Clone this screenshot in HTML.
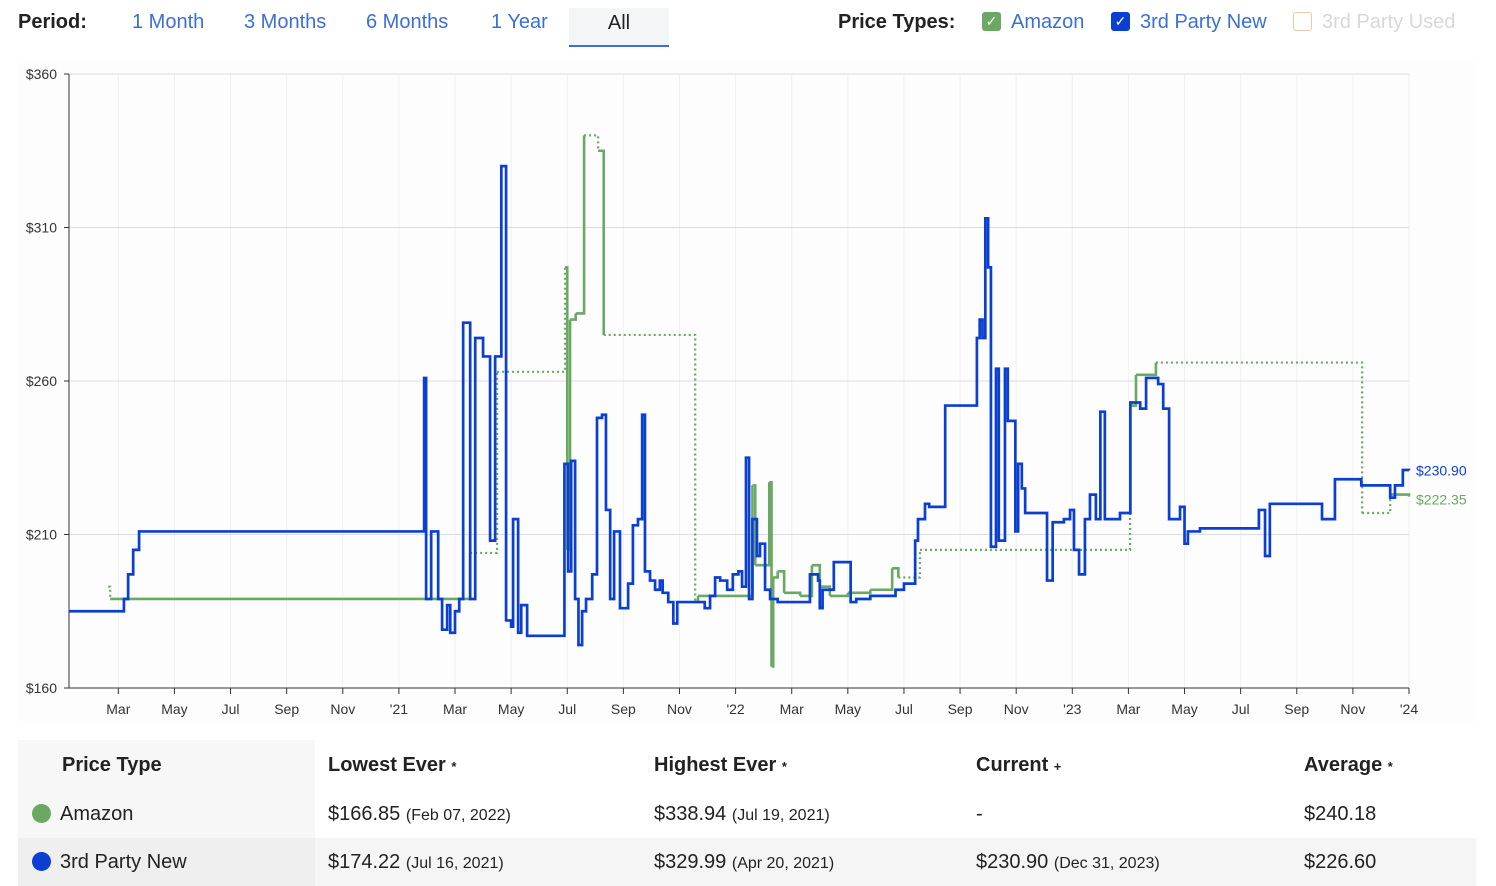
<!DOCTYPE html>
<html><head><meta charset="utf-8">
<style>
*{margin:0;padding:0;box-sizing:border-box}
body{width:1496px;height:875px;overflow:hidden;background:#fff;font-family:"Liberation Sans",sans-serif;position:relative}
.t{position:absolute;white-space:nowrap}
.per{font-size:20px;color:#3a6fd8;top:11px}
.cb{position:absolute;top:12px;width:19px;height:19px;border-radius:3px}
table{position:absolute;left:18px;top:740px;width:1458px;border-collapse:collapse;font-size:20px;color:#222}
td{height:48px;padding-left:0}
</style></head><body>
<div class="t" style="left:18px;top:11px;font-size:20px;font-weight:bold;color:#222">Period:</div>
<div class="t per" style="left:132px">1 Month</div>
<div class="t per" style="left:244px">3 Months</div>
<div class="t per" style="left:366px">6 Months</div>
<div class="t per" style="left:491px">1 Year</div>
<div class="t" style="left:569px;top:8px;width:100px;height:39px;background:#f4f5f6;border-bottom:2px solid #3a6fd8;font-size:20px;text-align:center;line-height:30px;color:#222">All</div>
<div class="t" style="left:838px;top:11px;font-size:20px;font-weight:bold;color:#222">Price Types:</div>
<div class="cb" style="left:982px;background:#6aa863;color:#fff;font-size:14px;text-align:center;line-height:19px">✓</div>
<div class="t" style="left:1011px;top:11px;font-size:20px;color:#3a6fd8">Amazon</div>
<div class="cb" style="left:1111px;background:#0b3fd1;color:#fff;font-size:14px;text-align:center;line-height:19px">✓</div>
<div class="t" style="left:1140px;top:11px;font-size:20px;color:#3a6fd8">3rd Party New</div>
<div class="cb" style="left:1293px;border:1.5px solid #f2c9a8;background:#fff"></div>
<div class="t" style="left:1322px;top:11px;font-size:20px;color:#d8d8d8">3rd Party Used</div>

<svg id="chart" width="1496" height="875" style="position:absolute;left:0;top:0">
<rect x="18" y="62" width="1458" height="660" fill="#fcfcfc" opacity="0.5"/>
<g id="grid"></g><g id="axes"></g><g id="series"></g>
</svg>

<table>
<tr style="font-weight:bold;background:#fff">
<td style="width:297px;padding-left:44px;background:#f7f7f7;height:50px">Price Type</td>
<td style="width:326px;padding-left:13px">Lowest Ever <span style="font-size:13px">*</span></td>
<td style="width:322px;padding-left:13px">Highest Ever <span style="font-size:13px">*</span></td>
<td style="width:328px;padding-left:13px">Current <span style="font-size:13px">+</span></td>
<td style="padding-left:13px">Average <span style="font-size:13px">*</span></td></tr>
<tr>
<td style="padding-left:14px;background:#f7f7f7"><span style="display:inline-block;width:19px;height:19px;border-radius:50%;background:#6aa863;vertical-align:-3px;margin-right:9px"></span>Amazon</td>
<td style="padding-left:13px">$166.85 <span style="font-size:16px">(Feb 07, 2022)</span></td>
<td style="padding-left:13px">$338.94 <span style="font-size:16px">(Jul 19, 2021)</span></td>
<td style="padding-left:13px">-</td>
<td style="padding-left:13px">$240.18</td></tr>
<tr style="background:#f5f5f5">
<td style="padding-left:14px;background:#efefef"><span style="display:inline-block;width:19px;height:19px;border-radius:50%;background:#0b3fd1;vertical-align:-3px;margin-right:9px"></span>3rd Party New</td>
<td style="padding-left:13px">$174.22 <span style="font-size:16px">(Jul 16, 2021)</span></td>
<td style="padding-left:13px">$329.99 <span style="font-size:16px">(Apr 20, 2021)</span></td>
<td style="padding-left:13px">$230.90 <span style="font-size:16px">(Dec 31, 2023)</span></td>
<td style="padding-left:13px">$226.60</td></tr>
</table>

<script>
const yTicks=[160,210,260,310,360];
const xTickLabels=["Mar","May","Jul","Sep","Nov","'21","Mar","May","Jul","Sep","Nov","'22","Mar","May","Jul","Sep","Nov","'23","Mar","May","Jul","Sep","Nov","'24"];
const xTickMonths=[2,4,6,8,10,12,14,16,18,20,22,24,26,28,30,32,34,36,38,40,42,44,46,48];
const blueMonths=[0.25,2.2,2.35,2.53,2.74,12.9,12.97,13.15,13.4,13.54,13.72,13.83,14.0,14.15,14.29,14.54,14.72,15.0,15.25,15.43,15.65,15.82,16.0,16.07,16.25,16.36,16.57,17.9,18.03,18.14,18.28,18.4,18.53,18.67,18.89,19.06,19.24,19.38,19.53,19.67,19.88,20.17,20.34,20.52,20.67,20.77,20.95,21.13,21.3,21.4,21.6,21.78,21.92,22.9,23.09,23.27,23.45,23.7,23.9,24.1,24.23,24.37,24.48,24.6,24.76,24.87,25.05,25.23,25.5,26.65,26.94,27.0,27.1,27.5,28.1,28.3,28.8,29.7,30.0,30.4,30.5,30.75,30.9,31.47,32.6,32.7,32.8,32.9,33.0,33.1,33.28,33.38,33.6,33.7,33.97,34.07,34.2,34.32,35.1,35.3,35.7,35.92,36.06,36.24,36.45,36.63,36.84,37.0,37.16,37.7,38.07,38.42,38.63,39.06,39.24,39.45,39.84,40.0,40.12,40.55,42.65,42.87,43.04,44.9,45.36,46.3,47.33,47.5,47.78,48];
const bluePrices=[185,189,197,205,211,261,189,211,189,179,187,178,185,189,279,189,274,268,208,268,330,182,180,215,178,187,177,233,198,234,189,174,185,189,197,248,249,218,189,211,186,194,213,215,249,198,195,192,195,191,188,181,188,186,190,196,195,192,197,198,193,235,189,215,203,207,192,189,188,197,195,186,192,201,188,189,190,192,194,208,215,220,219,252,274,280,274,313,297,206,264,208,264,247,211,233,225,217,195,214,215,218,205,197,215,223,215,250,215,217,253,251,261,259,251,215,219,207,211,212,218,203,220,215,228,226,222,226,231,230.9];
const greenMonths=[1.64,1.71,14.54,15.5,17.92,18.0,18.1,18.3,18.6,19.1,19.3,22.56,22.66,24.6,24.7,25.2,25.28,25.34,25.5,25.73,26.3,26.72,27.0,27.36,28.0,28.8,29.58,29.8,30.57,38.06,38.27,38.98,46.33,47.33,48];
const greenPrices=[193,189,204,263,297,205,280,282,340,335,275,188,190,226,200,227,167,196,198,191,190,200,193,190,191,192,199,196,205,252,262,266,217,223,222.35];
const greenDotted=[1,0,1,1,0,0,0,0,1,0,1,0,0,0,0,0,0,0,0,0,0,0,0,0,0,0,0,1,1,0,0,1,1,0,0];
const NS='http://www.w3.org/2000/svg';
const X0=69,X1=1409,Y0=688,Y1=74;
const xs=m=>62.2+m*(X1-62.2)/48;
const ys=p=>Y0-(p-160)*(Y0-Y1)/200;
function mk(tag,attrs,parent){const e=document.createElementNS(NS,tag);for(const k in attrs)e.setAttribute(k,attrs[k]);parent.appendChild(e);return e;}
const grid=document.getElementById('grid'),axes=document.getElementById('axes'),ser=document.getElementById('series');
xTickMonths.forEach((m,i)=>{
  const l=mk('line',{x1:xs(m),x2:xs(m),y1:Y1,y2:Y0,stroke:'#f0f0f0'},grid);
  
  
  const tk=mk('line',{x1:xs(m),x2:xs(m),y1:Y0,y2:Y0+6,stroke:'#333'},axes);
  
  
  const t=mk('text',{x:xs(m),y:714,'text-anchor':'middle','font-size':14,fill:'#333','font-family':'Liberation Sans'},axes);
  t.textContent=xTickLabels[i];
  
  
});
yTicks.forEach(v=>{
  const l=mk('line',{x1:X0,x2:X1,y1:ys(v),y2:ys(v),stroke:'#dadde3'},grid);
  
  
  mk('line',{x1:X0-5,x2:X0,y1:ys(v),y2:ys(v),stroke:'#333'},axes);
  const t=mk('text',{x:57,y:ys(v)+5,'text-anchor':'end','font-size':14,fill:'#333','font-family':'Liberation Sans'},axes);
  t.textContent='$'+v;
  
  
});
mk('line',{x1:X0,x2:X0,y1:Y1,y2:Y0,stroke:'#333'},axes);
mk('line',{x1:X0,x2:X1,y1:Y0,y2:Y0,stroke:'#333'},axes);
for(let i=0;i<greenMonths.length-1;i++){
  const x1=xs(greenMonths[i]),x2=xs(greenMonths[i+1]),y=ys(greenPrices[i]),yn=ys(greenPrices[i+1]);
  const p=mk('path',{d:`M${x1},${y}H${x2}V${yn}`,fill:'none',stroke:'#6aa863','stroke-width':greenDotted[i]?2.2:2.6,'stroke-dasharray':greenDotted[i]?'2,3':'none'},ser);
  
  
}
let d='M'+xs(blueMonths[0])+','+ys(bluePrices[0]);
for(let i=1;i<blueMonths.length;i++){d+='H'+xs(blueMonths[i])+'V'+ys(bluePrices[i]);}
const bp=mk('path',{d:d,fill:'none',stroke:'#0b3fd1','stroke-width':2.7},ser);


const bl=mk('text',{x:1416,y:ys(bluePrices[bluePrices.length-1])+5,'font-size':14,fill:'#0b3fd1','font-family':'Liberation Sans'},ser);
bl.textContent='$230.90';


const gl=mk('text',{x:1416,y:ys(greenPrices[greenPrices.length-1])+8,'font-size':14,fill:'#6aa863','font-family':'Liberation Sans'},ser);
gl.textContent='$222.35';


</script>
</body></html>
